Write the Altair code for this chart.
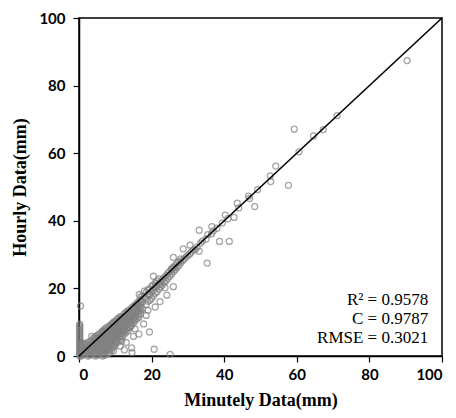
import altair as alt
import pandas as pd

# Stack of points at Minutely = 0
stack_x = [0.2] * 20
stack_y = [0, 0.5, 1, 1.5, 2, 2.5, 3, 3.5, 4, 4.5, 5, 5.5, 6, 6.5, 7, 7.5, 8, 8.5, 9, 9.4]

# Dense wedge near the origin (columns of points)
wedge_cols = {
    0.5: [0, 1, 2, 3, 3.8],
    1.0: [0.25, 1.25, 2.25, 3.25, 3.9],
    1.5: [0.5, 1.5, 2.5, 3.5],
    2.0: [0.75, 1.75, 2.75, 3.6],
    2.5: [0, 1, 2, 3, 4],
    3.0: [0.25, 1.25, 2.25, 3.25, 4.25],
    3.5: [0.5, 1.5, 2.5, 3.5, 4.5],
    4.0: [0.75, 1.75, 2.75, 3.75, 4.75, 5.3],
    4.5: [0, 1, 2, 3, 4, 5, 5.7],
    5.0: [0.25, 1.25, 2.25, 3.25, 4.25, 5.25, 6.1],
    5.5: [0.5, 1.5, 2.5, 3.5, 4.5, 5.5, 6.5],
    6.0: [0.75, 1.75, 2.75, 3.75, 4.75, 5.75, 6.75],
    6.5: [0, 1, 2, 3, 4, 5, 6, 7, 7.4],
    7.0: [0.25, 1.25, 2.25, 3.25, 4.25, 5.25, 6.25, 7.25, 7.9],
    7.5: [0.5, 1.5, 2.5, 3.5, 4.5, 5.5, 6.5, 7.5, 8.3],
    8.0: [0.75, 1.75, 2.75, 3.75, 4.75, 5.75, 6.75, 7.75, 8.6],
    8.5: [1, 2, 3, 4, 5, 6, 7, 8, 9],
    9.0: [1.75, 2.75, 3.75, 4.75, 5.75, 6.75, 7.75, 8.75, 9.5],
    9.5: [2.5, 3.5, 4.5, 5.5, 6.5, 7.5, 8.5, 9.5, 10],
    10.0: [3.25, 4.25, 5.25, 6.25, 7.25, 8.25, 9.25, 10.25],
    10.5: [4, 5, 6, 7, 8, 9, 10, 10.9],
    11.0: [4.5, 5.5, 6.5, 7.5, 8.5, 9.5, 10.5, 11.25],
    11.5: [5, 6, 7, 8, 9, 10, 11, 11.7],
    12.0: [5.75, 6.75, 7.75, 8.75, 9.75, 10.75, 11.75],
    12.5: [6.5, 7.5, 8.5, 9.5, 10.5, 11.5, 12.5],
    13.0: [7.0, 8.0, 9.0, 10.0, 11.0, 12.0, 12.9],
    13.5: [7.5, 8.5, 9.5, 10.5, 11.5, 12.5, 13.4],
    14.0: [8.5, 9.5, 10.5, 11.5, 12.5, 13.6],
    14.5: [9, 10, 11, 12, 13, 14.2],
    15.0: [9.75, 10.75, 11.75, 12.75, 13.75, 14.6],
    15.5: [10.5, 11.5, 12.5, 13.5, 14.5, 15.2],
    16.0: [11.0, 12.0, 13.0, 14.0, 15.0, 15.6],
    16.5: [11.5, 12.5, 13.5, 14.5, 15.5, 16.2],
    17.0: [12.5, 13.5, 14.5, 15.5, 16.6, 17.5],
}

# Band along the 1:1 line
band_x = [17.5, 17.5, 17.5, 18.5, 18.5, 18.5, 19.5, 19.5, 19.5, 20.5, 20.5, 20.5,
          21.5, 21.5, 21.5, 22.5, 22.5, 23.5, 23.5, 24.5, 24.5, 25.5, 25.5, 26.5,
          26.5, 27.5, 27.5, 28.5, 29.5, 30.5, 31.5, 32.5, 33.5, 35, 36.5, 38, 39.5,
          41, 44, 47,
          18, 18, 19, 19, 19, 20, 20, 20, 21, 21, 21, 22, 22, 22, 23, 23, 24, 24,
          25, 25, 26, 26, 27, 27, 28, 29, 30, 31, 32, 34, 37]
band_y = [14, 16, 17.8, 15.2, 17, 18.8, 16.5, 18.2, 19.8, 17.8, 19.5, 21,
          19, 20.8, 22.2, 20.5, 22, 21.8, 23.2, 23, 24.5, 24.2, 25.6, 25.5,
          26.8, 26.8, 28, 28.2, 29.3, 30.2, 31.4, 32.2, 33.4, 34.6, 36.2, 37.8, 39.4,
          40.6, 43.8, 46.6,
          17.5, 19.2, 16.2, 18.3, 19.6, 17, 19, 20.6, 18.6, 20.3, 21.6, 19.8, 21.3,
          22.8, 21, 22.6, 22.3, 23.8, 23.6, 25, 25, 26.3, 26.2, 27.5, 27.6, 28.7,
          29.8, 30.8, 31.5, 34, 37]

# Scattered points
out_x = [90.4, 71.1, 67.3, 64.6, 59.3, 60.6, 54.2, 52.7, 52.8, 57.7, 49.2, 46.7,
         43.6, 48.4, 40.3, 42.7, 36.6, 33.1, 38.7, 41.4, 35.5, 35.3, 30.6, 28.7,
         26.0, 28.0, 33.1, 20.5, 25.5, 26.0, 23.7, 26.4, 22.3, 24.2, 19.4, 20.7,
         25.1, 0.4, 16.6, 14.4, 14.0, 15.0, 14.5, 14.6, 11.3, 9.5, 11.8, 12.2,
         10.4, 15.4, 3.5, 17.8, 18.5, 13.0, 16.5, 19.0, 21.0, 12.5]
out_y = [87.4, 71.1, 67.0, 65.1, 67.1, 60.4, 56.2, 53.3, 51.6, 50.5, 49.2, 47.3,
         45.2, 44.2, 41.7, 41.0, 38.3, 37.2, 33.9, 33.9, 35.9, 27.5, 32.8, 31.7,
         29.2, 28.7, 31.0, 23.6, 25.8, 20.5, 20.2, 26.1, 16.1, 18.0, 7.1, 2.0,
         0.5, 14.8, 18.2, 10.2, 8.5, 5.8, 2.4, 1.0, 2.9, 1.5, 4.4, 7.3,
         6.3, 8.0, 5.8, 9.5, 12.0, 4.0, 6.5, 13.5, 14.5, 1.8]

line_x = [0, 100]
line_y = [0, 100]

stat_labels = ["R\u00b2 = 0.9578", "C  = 0.9787", "RMSE = 0.3021"]
stat_y = [16.7, 10.9, 5.3]

wx, wy = [], []
for cx, vals in wedge_cols.items():
    for v in vals:
        wx.append(cx)
        wy.append(v)

pts = pd.DataFrame({
    "x": stack_x + wx + band_x + out_x,
    "y": stack_y + wy + band_y + out_y,
})
line_df = pd.DataFrame({"x": line_x, "y": line_y})
txt_df = pd.DataFrame({"t": stat_labels, "x": [96.2] * 3, "y": stat_y})

xs = alt.Scale(domain=[0, 100], nice=False)
ys_ = alt.Scale(domain=[0, 100], nice=False)

xaxis = alt.Axis(title="Minutely Data(mm)", values=[0, 20, 40, 60, 80, 100],
                 grid=False, tickSize=6, labelPadding=5, titlePadding=9)
yaxis = alt.Axis(title="Hourly Data(mm)", values=[0, 20, 40, 60, 80, 100],
                 grid=False, tickSize=6, labelPadding=8, titlePadding=9)

points = alt.Chart(pts).mark_point(
    shape="circle", filled=False, color="#808080", size=36, strokeWidth=1.3
).encode(
    x=alt.X("x:Q", scale=xs, axis=xaxis),
    y=alt.Y("y:Q", scale=ys_, axis=yaxis),
)

line = alt.Chart(line_df).mark_line(color="black", strokeWidth=1.6).encode(
    x=alt.X("x:Q", scale=xs),
    y=alt.Y("y:Q", scale=ys_),
)

text = alt.Chart(txt_df).mark_text(
    align="right", baseline="middle", font="Liberation Serif", fontSize=17, color="black"
).encode(
    x=alt.X("x:Q", scale=xs),
    y=alt.Y("y:Q", scale=ys_),
    text="t:N",
)

chart = alt.layer(points, line, text).properties(
    width=363, height=338,
    autosize=alt.AutoSizeParams(type="none"),
    padding={"left": 71, "top": 10, "right": 6, "bottom": 54},
).configure_view(
    stroke="black", strokeWidth=1.5
).configure_axis(
    domainColor="black", domainWidth=1.5, tickColor="black", tickWidth=1.2,
    labelFont="Lato", labelFontWeight="bold", labelFontSize=15, labelColor="black",
    titleFont="Liberation Serif", titleFontWeight="bold", titleFontSize=18,
    titleColor="black",
)

chart.save("out.html", embed_options={"renderer": "svg", "actions": False})
